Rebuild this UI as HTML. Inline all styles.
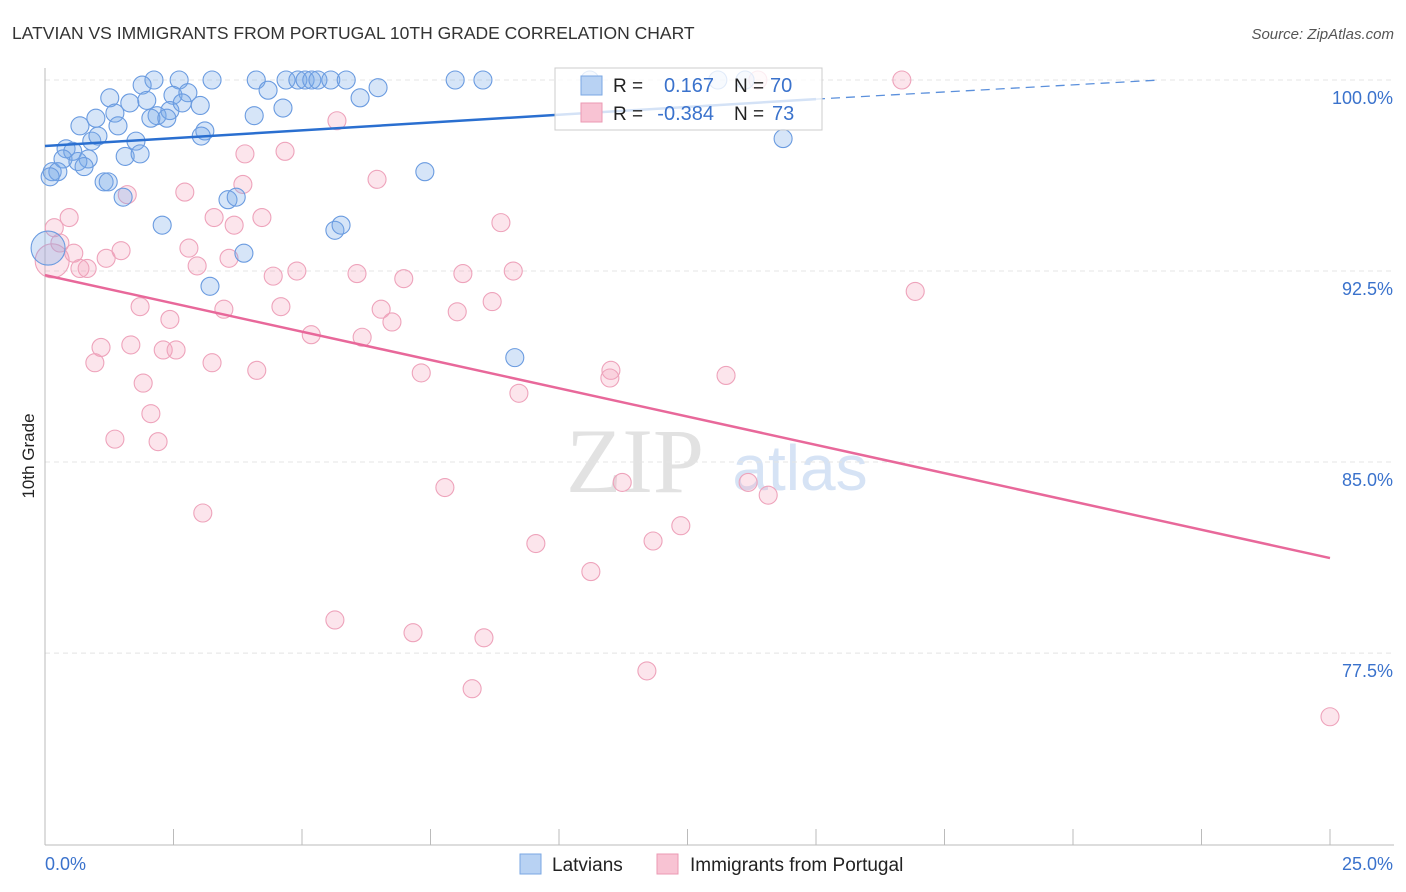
<!DOCTYPE html>
<html><head><meta charset="utf-8"><style>
body{margin:0;background:#fff;font-family:"Liberation Sans",sans-serif;}
svg{display:block}
</style></head><body>
<svg id="chart" width="1406" height="892">
<text x="12" y="39" font-size="17.5" fill="#333">LATVIAN VS IMMIGRANTS FROM PORTUGAL 10TH GRADE CORRELATION CHART</text>
<text x="1394" y="39" font-size="15" fill="#555" font-style="italic" text-anchor="end">Source: ZipAtlas.com</text>
<text x="34" y="456" font-size="17" fill="#222" transform="rotate(-90 34 456)" text-anchor="middle">10th Grade</text>
<text x="635" y="492" font-size="92" fill="#e2e2e2" font-family="Liberation Serif,serif" text-anchor="middle">ZIP</text>
<text x="800" y="490" font-size="64" fill="#d6e3f5" text-anchor="middle">atlas</text>
<g id="grid"></g><g id="axes"></g><g id="pts"></g><g id="trends"></g>
<g>
<rect x="555" y="68" width="267" height="62" fill="#fff" fill-opacity="0.8" stroke="#ccc"/>
<rect x="581" y="76" width="21" height="19" fill="#b8d2f3" stroke="#7aa7e3"/>
<rect x="581" y="103" width="21" height="19" fill="#f8c3d3" stroke="#eb9ab3"/>
<text x="613" y="92" font-size="19" fill="#222">R = </text><text x="714" y="92" font-size="20" fill="#3a72cc" text-anchor="end">0.167</text>
<text x="734" y="92" font-size="19" fill="#222">N = </text><text x="770" y="92" font-size="20" fill="#3a72cc">70</text>
<text x="613" y="120" font-size="19" fill="#222">R = </text><text x="714" y="120" font-size="20" fill="#3a72cc" text-anchor="end">-0.384</text>
<text x="734" y="120" font-size="19" fill="#222">N = </text><text x="772" y="120" font-size="20" fill="#3a72cc">73</text>
</g>
<g>
<rect x="520" y="854" width="21" height="20" fill="#b8d2f3" stroke="#7aa7e3"/>
<text x="552" y="871" font-size="19" fill="#222">Latvians</text>
<rect x="657" y="854" width="21" height="20" fill="#f8c3d3" stroke="#eb9ab3"/>
<text x="690" y="871" font-size="19" fill="#222">Immigrants from Portugal</text>
</g>
</svg>
<script>
const blueX=[2.12,2.61,3.25,4.11,4.69,4.92,5.06,5.19,5.31,5.56,5.86,7.98,8.52,1.89,4.34,6.48,1.26,1.65,1.98,2.49,2.78,3.02,6.13,4.63,4.07,1.36,2.18,2.43,2.06,2.37,2.67,0.68,0.99,1.42,3.11,3.04,0.41,0.54,0.91,1.03,1.77,1.56,1.85,0.84,0.35,0.64,0.76,0.14,0.25,0.10,1.15,1.23,1.52,3.56,3.72,2.28,5.64,5.76,7.39,3.87,3.21,9.14,14.36,13.09,13.62,10.60,0.06];
const blueY=[100,100,100,100,100,100,100,100,100,100,100,100,100,99.8,99.6,99.7,99.3,99.1,99.2,99.4,99.5,99.0,99.3,98.9,98.6,98.7,98.6,98.8,98.5,98.5,99.1,98.2,98.5,98.2,98.0,97.8,97.3,97.2,97.6,97.8,97.6,97.0,97.1,96.9,96.9,96.8,96.6,96.4,96.4,96.2,96.0,96.0,95.4,95.3,95.4,94.3,94.1,94.3,96.4,93.2,91.9,89.1,97.7,100,100,100,93.4];
const pinkX=[16.67,13.87,5.68,3.89,4.67,6.46,3.85,2.72,1.60,0.47,0.18,3.29,3.68,4.22,8.87,2.80,3.58,2.96,1.19,0.56,0.82,0.68,1.48,0.29,0.14,4.44,4.90,6.07,6.98,8.13,9.11,8.70,6.54,6.75,4.59,3.48,1.85,2.43,5.18,6.17,8.02,1.09,1.67,2.30,2.55,3.25,0.97,4.12,7.32,11.01,10.99,13.25,1.91,9.22,2.06,1.36,2.20,7.78,11.23,13.68,14.07,3.07,12.37,9.55,11.83,10.62,5.64,7.16,8.54,8.31,11.71,25.0,16.93];
const pinkY=[100,100,98.4,97.1,97.2,96.1,95.9,95.6,95.5,94.6,94.2,94.6,94.3,94.6,94.4,93.4,93.0,92.7,93.0,93.2,92.6,92.6,93.3,93.6,92.9,92.3,92.5,92.4,92.2,92.4,92.5,91.3,91.0,90.5,91.1,91.0,91.1,90.6,90.0,89.9,90.9,89.5,89.6,89.4,89.4,88.9,88.9,88.6,88.5,88.6,88.3,88.4,88.1,87.7,86.9,85.9,85.8,84.0,84.2,84.2,83.7,83.0,82.5,81.8,81.9,80.7,78.8,78.3,78.1,76.1,76.8,75.0,91.7];
const yTicks=[100,92.5,85,77.5];
const yTickLabels=["100.0%","92.5%","85.0%","77.5%"];
const xTicks=[0,2.5,5,7.5,10,12.5,15,17.5,20,22.5,25];
const blueTrend=[97.41,99.25,100]; const blueTrendX=[0,15,21.7];
const pinkTrend=[92.34,81.23]; const pinkTrendX=[0,25];
const NS="http://www.w3.org/2000/svg";
const X=v=>45+v*51.4, Y=v=>80+(100-v)*25.47;
function mk(tag,attrs,parent){const e=document.createElementNS(NS,tag);for(const k in attrs)e.setAttribute(k,attrs[k]);parent.appendChild(e);return e;}
const grid=document.getElementById('grid'),axes=document.getElementById('axes');
yTicks.forEach((t,i)=>{
 const l=mk('line',{x1:45,x2:1394,y1:Y(t),y2:Y(t),stroke:'#e4e4e4','stroke-dasharray':'5,4'},grid);
 
 
 const tx=mk('text',{x:1393,y:Y(t)+24,'font-size':18,fill:'#3a72cc','text-anchor':'end'},axes);
 tx.textContent=yTickLabels[i];
 
 
});
mk('line',{x1:45,x2:45,y1:68,y2:845,stroke:'#bbb'},axes);
mk('line',{x1:45,x2:1394,y1:845,y2:845,stroke:'#bbb'},axes);
xTicks.forEach(t=>{const l=mk('line',{x1:X(t),x2:X(t),y1:829,y2:845,stroke:'#bbb'},axes);
 
 });
const x0=mk('text',{x:45,y:870,'font-size':18,fill:'#3a72cc'},axes);x0.textContent='0.0%';


const x1=mk('text',{x:1393,y:870,'font-size':18,fill:'#3a72cc','text-anchor':'end'},axes);x1.textContent='25.0%';


const pts=document.getElementById('pts');
pinkX.forEach((x,i)=>{const c=mk('circle',{cx:X(x),cy:Y(pinkY[i]),r:(i===24?17:9),fill:'rgba(244,160,188,0.28)',stroke:'#eea3bb','stroke-width':1.1},pts);
 
 });
blueX.forEach((x,i)=>{const c=mk('circle',{cx:X(x),cy:Y(blueY[i]),r:(i===66?17:9),fill:'rgba(120,168,232,0.3)',stroke:'#6a9be0','stroke-width':1.1},pts);
 
 });
const tr=document.getElementById('trends');
const b1=mk('line',{x1:X(blueTrendX[0]),y1:Y(blueTrend[0]),x2:X(blueTrendX[1]),y2:Y(blueTrend[1]),stroke:'#2a6fd0','stroke-width':2.5},tr);


const b2=mk('line',{x1:X(blueTrendX[1]),y1:Y(blueTrend[1]),x2:X(blueTrendX[2]),y2:Y(blueTrend[2]),stroke:'#5b90dc','stroke-width':1.3,'stroke-dasharray':'9,6'},tr);


const p1=mk('line',{x1:X(pinkTrendX[0]),y1:Y(pinkTrend[0]),x2:X(pinkTrendX[1]),y2:Y(pinkTrend[1]),stroke:'#e8689a','stroke-width':2.5},tr);


</script>
</body></html>
